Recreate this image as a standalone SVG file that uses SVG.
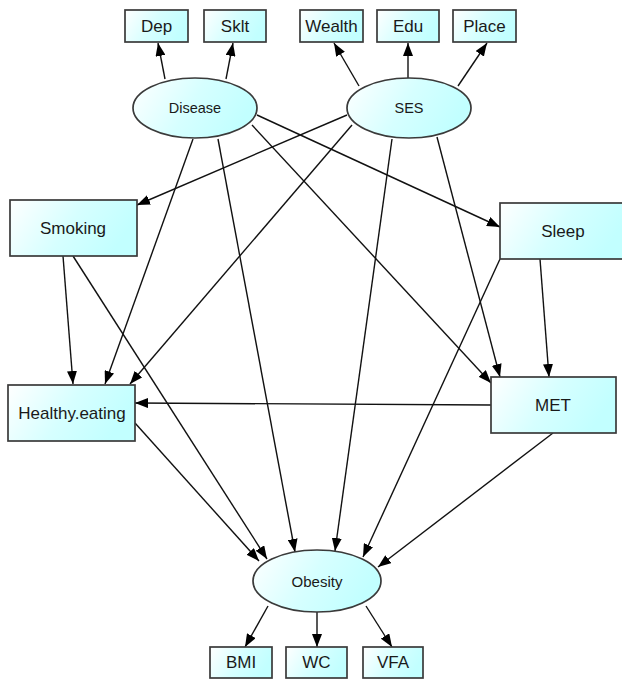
<svg xmlns="http://www.w3.org/2000/svg" width="622" height="680" viewBox="0 0 622 680">
<defs>
<linearGradient id="g" x1="0" y1="0" x2="1" y2="0.3">
<stop offset="0" stop-color="#ffffff"/>
<stop offset="0.55" stop-color="#d6ffff"/>
<stop offset="1" stop-color="#c2ffff"/>
</linearGradient>
<marker id="ah" markerUnits="userSpaceOnUse" markerWidth="13" markerHeight="10" refX="13" refY="5" orient="auto">
<path d="M0,0 L13,5 L0,10 z" fill="#000"/>
</marker>
<style>
.n{fill:url(#g);stroke:#3a3a3a;stroke-width:1.7}
.t{font-family:"Liberation Sans",Arial,sans-serif;fill:#1a1a1a;text-anchor:middle;dominant-baseline:central}
.b{font-size:17px}
.e{font-size:14.5px}
.c line{stroke:#111;stroke-width:1.4;marker-end:url(#ah)}
</style>
</defs>
<rect width="622" height="680" fill="#fff"/>
<g class="c" id="connectors">
<line x1="165" y1="79" x2="158" y2="43"/>
<line x1="226" y1="79" x2="233" y2="43"/>
<line x1="359" y1="86" x2="334" y2="43"/>
<line x1="408" y1="78" x2="408" y2="43"/>
<line x1="458" y1="86" x2="487" y2="43"/>
<line x1="347" y1="115" x2="137" y2="205"/>
<line x1="257" y1="115" x2="500" y2="227"/>
<line x1="193" y1="139" x2="105" y2="384"/>
<line x1="218" y1="139" x2="295" y2="552"/>
<line x1="252" y1="125" x2="491" y2="383"/>
<line x1="352" y1="125" x2="130" y2="384"/>
<line x1="392" y1="139" x2="335" y2="551"/>
<line x1="437" y1="137" x2="500" y2="377"/>
<line x1="63" y1="256" x2="73" y2="384"/>
<line x1="73" y1="256" x2="267" y2="559"/>
<line x1="540" y1="259" x2="549" y2="377"/>
<line x1="500" y1="259" x2="363" y2="557"/>
<line x1="491" y1="405" x2="135" y2="403"/>
<line x1="553" y1="433" x2="378" y2="567"/>
<line x1="135" y1="423" x2="259" y2="561"/>
<line x1="268" y1="606" x2="245" y2="647"/>
<line x1="317" y1="612" x2="317" y2="647"/>
<line x1="366" y1="606" x2="392" y2="647"/>
</g>
<g id="Dep"><rect class="n" x="125" y="10" width="63" height="32"/><text class="t b" x="156.5" y="26">Dep</text></g>
<g id="Sklt"><rect class="n" x="204" y="10" width="62" height="32"/><text class="t b" x="235" y="26">Sklt</text></g>
<g id="Wealth"><rect class="n" x="300" y="10" width="63" height="32"/><text class="t b" x="331.5" y="26">Wealth</text></g>
<g id="Edu"><rect class="n" x="377" y="10" width="62" height="32"/><text class="t b" x="408" y="26">Edu</text></g>
<g id="Place"><rect class="n" x="453" y="10" width="63" height="32"/><text class="t b" x="484.5" y="26">Place</text></g>
<g id="Disease"><ellipse class="n" cx="195" cy="108" rx="62" ry="30"/><text class="t e" x="195" y="108">Disease</text></g>
<g id="SES"><ellipse class="n" cx="409" cy="108" rx="62" ry="30"/><text class="t e" x="409" y="108">SES</text></g>
<g id="Smoking"><rect class="n" x="10" y="200" width="127" height="56"/><text class="t b" x="73" y="228">Smoking</text></g>
<g id="Sleep"><rect class="n" x="500" y="203" width="126" height="56"/><text class="t b" x="563" y="231">Sleep</text></g>
<g id="Healthy.eating"><rect class="n" x="8" y="385" width="127" height="56"/><text class="t b" x="72" y="413">Healthy.eating</text></g>
<g id="MET"><rect class="n" x="491" y="377" width="125" height="56"/><text class="t b" x="553" y="405">MET</text></g>
<g id="Obesity"><ellipse class="n" cx="317" cy="581" rx="64" ry="31"/><text class="t" style="font-size:15px" x="317" y="581">Obesity</text></g>
<g id="BMI"><rect class="n" x="210" y="647" width="62" height="31"/><text class="t b" x="241" y="662.5">BMI</text></g>
<g id="WC"><rect class="n" x="286" y="647" width="61" height="31"/><text class="t b" x="316.5" y="662.5">WC</text></g>
<g id="VFA"><rect class="n" x="363" y="647" width="60" height="31"/><text class="t b" x="393" y="662.5">VFA</text></g>
</svg>
